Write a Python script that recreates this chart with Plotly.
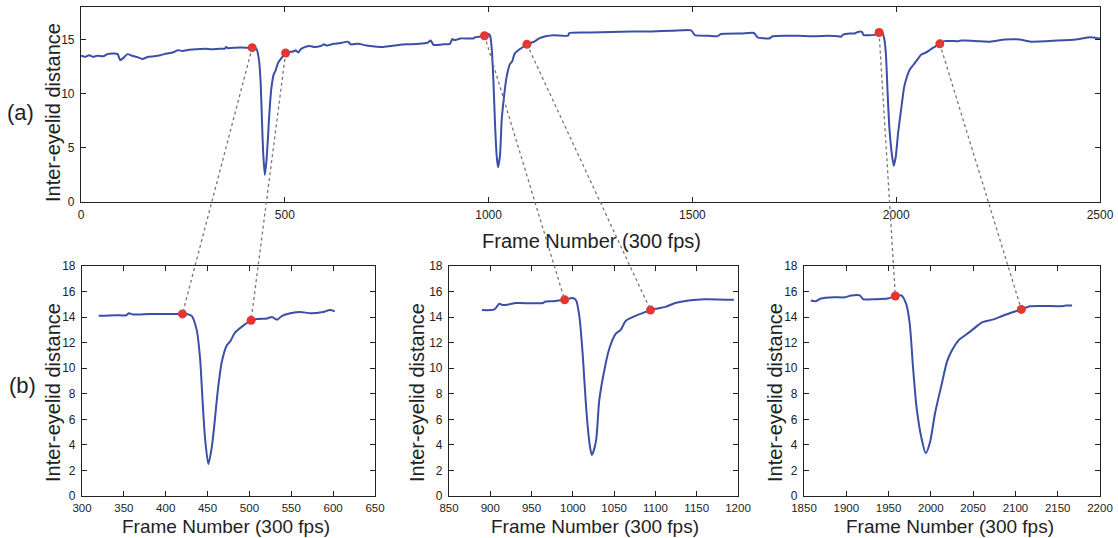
import plotly.graph_objects as go

# inter-eyelid distance trace (frame number, distance)
frames = [0, 10, 20, 30, 40, 55, 65, 80, 90, 96, 104, 114, 125, 140, 150, 165, 180, 195, 210, 225,
          237, 250, 265, 285, 305, 320, 340, 353, 356, 361, 381, 400, 413, 419, 425, 431, 437, 441, 444, 447,
          451, 455, 458, 461, 464, 467, 473, 477, 483, 493, 502, 509, 521, 527, 533, 539, 549, 561, 573, 588,
          596, 602, 620, 640, 655, 662, 680, 700, 720, 740, 760, 780, 800, 830, 850, 858, 865, 890, 905, 911,
          915, 923, 931, 964, 966, 976, 990, 1000, 1004, 1008, 1012, 1016, 1020, 1023, 1028, 1032, 1038, 1044, 1052, 1058,
          1064, 1076, 1088, 1094, 1100, 1112, 1124, 1140, 1160, 1195, 1198, 1250, 1300, 1350, 1400, 1450, 1497, 1506, 1540, 1561,
          1570, 1620, 1651, 1660, 1688, 1697, 1730, 1760, 1800, 1830, 1858, 1864, 1870, 1886, 1898, 1906, 1916, 1920, 1934, 1949,
          1958, 1965, 1971, 1975, 1979, 1983, 1989, 1994, 1999, 2005, 2013, 2019, 2025, 2033, 2041, 2049, 2061, 2073, 2081, 2093,
          2107, 2117, 2152, 2160, 2167, 2200, 2231, 2267, 2303, 2330, 2394, 2440, 2475, 2490, 2500]
distance = [13.5, 13.4, 13.55, 13.4, 13.5, 13.45, 13.65, 13.7, 13.65, 13.1, 13.3, 13.65, 13.5, 13.35, 13.2, 13.4, 13.45, 13.55, 13.7, 13.8,
            14.0, 13.95, 14.05, 14.1, 14.15, 14.1, 14.15, 14.15, 14.3, 14.2, 14.25, 14.25, 14.25, 14.25, 14.25, 14.1, 13.0, 10.8, 7.5, 4.5,
            2.5, 3.8, 5.5, 7.5, 9.2, 10.5, 11.8, 12.1, 12.8, 13.35, 13.75, 13.85, 13.9, 14.0, 13.8, 14.1, 14.3, 14.4, 14.3, 14.4,
            14.55, 14.45, 14.6, 14.7, 14.8, 14.55, 14.6, 14.45, 14.35, 14.3, 14.4, 14.5, 14.55, 14.6, 14.7, 14.9, 14.5, 14.55, 14.6, 15.05,
            14.95, 15.0, 15.1, 15.1, 15.2, 15.25, 15.35, 15.5, 15.3, 14.0, 11.0, 7.0, 4.2, 3.2, 4.3, 7.5, 9.8, 11.5, 12.7, 13.0,
            13.7, 14.1, 14.4, 14.55, 14.65, 14.8, 15.1, 15.3, 15.4, 15.35, 15.6, 15.65, 15.7, 15.75, 15.75, 15.8, 15.85, 15.4, 15.35, 15.3,
            15.5, 15.55, 15.6, 15.2, 15.1, 15.3, 15.35, 15.35, 15.3, 15.35, 15.3, 15.25, 15.45, 15.55, 15.55, 15.7, 15.7, 15.4, 15.4, 15.45,
            15.65, 15.7, 15.0, 13.5, 10.0, 7.0, 4.5, 3.35, 4.2, 6.5, 8.8, 10.5, 11.4, 12.2, 12.6, 13.0, 13.6, 13.8, 14.0, 14.3,
            14.6, 14.85, 14.85, 14.9, 14.9, 14.85, 14.8, 15.0, 15.0, 14.8, 14.9, 15.0, 15.2, 15.15, 15.1]

# blink start / end markers
mark_frames = [420, 502, 990, 1094, 1958, 2107]
mark_values = [14.25, 13.75, 15.35, 14.55, 15.65, 14.6]

# frame windows of the three zoomed panels
zoom_windows = [(320, 602), (890, 1195), (1858, 2167)]
zoom_ranges = [(300, 650), (850, 1200), (1850, 2200)]

W, H = 1118, 538
BLUE = '#3a4fa6'
RED = '#e8332e'
FONT = 'Arial, Liberation Sans, sans-serif'


def px(x):
    return x / W


def py(y):
    return 1 - y / H


top_dom_x = [px(81), px(1100)]
top_dom_y = [py(202), py(7)]
bot_dom_y = [py(496), py(266)]
bot_dom_x = [[px(82), px(375)], [px(449), px(738)], [px(804), px(1100)]]

axis_style = dict(showline=True, linecolor='#222', linewidth=1.1, mirror='ticks', automargin=False,
                  ticks='inside', ticklen=5, tickcolor='#222', showgrid=False, zeroline=False,
                  tickfont=dict(family=FONT, size=12, color='#222'))

fig = go.Figure()

# top panel
fig.add_trace(go.Scatter(x=frames, y=distance, mode='lines',
                         line=dict(color=BLUE, width=2, shape='spline', smoothing=0.5),
                         xaxis='x', yaxis='y', showlegend=False))
fig.add_trace(go.Scatter(x=mark_frames, y=mark_values, mode='markers',
                         marker=dict(color=RED, size=9), xaxis='x', yaxis='y', showlegend=False))

# zoomed panels
for i, (lo, hi) in enumerate(zoom_windows):
    ax = str(i + 2)
    fx = [f for f in frames if lo <= f <= hi]
    fy = [v for f, v in zip(frames, distance) if lo <= f <= hi]
    fig.add_trace(go.Scatter(x=fx, y=fy, mode='lines', line=dict(color=BLUE, width=2, shape='spline', smoothing=0.7),
                             xaxis='x' + ax, yaxis='y' + ax, showlegend=False))
    mf = mark_frames[2 * i:2 * i + 2]
    mv = mark_values[2 * i:2 * i + 2]
    fig.add_trace(go.Scatter(x=mf, y=mv, mode='markers', marker=dict(color=RED, size=9),
                             xaxis='x' + ax, yaxis='y' + ax, showlegend=False))

layout = dict(width=W, height=H, margin=dict(l=0, r=0, t=0, b=0, autoexpand=False),
              paper_bgcolor='white', plot_bgcolor='white', showlegend=False)
layout['xaxis'] = dict(axis_style, domain=top_dom_x, range=[0, 2500], tickvals=[0, 500, 1000, 1500, 2000, 2500],
                       anchor='y', ticklabelstandoff=2)
layout['yaxis'] = dict(axis_style, domain=top_dom_y, range=[0, 18], tickvals=[0, 5, 10, 15], anchor='x',
                       ticklabelstandoff=3)
for i, (r0, r1) in enumerate(zoom_ranges):
    ax = str(i + 2)
    layout['xaxis' + ax] = dict(axis_style, domain=bot_dom_x[i], range=[r0, r1], dtick=50, anchor='y' + ax,
                                ticklabelstandoff=1, tickfont=dict(family=FONT, size=11.5, color='#222'))
    layout['yaxis' + ax] = dict(axis_style, domain=bot_dom_y, range=[0, 18], dtick=2, anchor='x' + ax,
                                ticklabelstandoff=3)
fig.update_layout(**layout)

# axis titles and panel labels
title_font = dict(family=FONT, size=20, color='#222')
ann = [
    dict(text='Frame Number (300 fps)', x=px(591), y=py(241)),
    dict(text='Inter-eyelid distance', x=px(53), y=py(113), textangle=-90),
    dict(text='(a)', x=px(20), y=py(113), font=dict(family=FONT, size=22, color='#222')),
    dict(text='(b)', x=px(22), y=py(385), font=dict(family=FONT, size=22, color='#222')),
]
for cx, ytx in [(226, 53), (595, 417), (950, 775)]:
    ann.append(dict(text='Frame Number (300 fps)', x=px(cx), y=py(526), font=dict(family=FONT, size=19, color='#222')))
    ann.append(dict(text='Inter-eyelid distance', x=px(ytx), y=py(393), textangle=-90))
for a in ann:
    a.setdefault('font', title_font)
    fig.add_annotation(xref='paper', yref='paper', showarrow=False, xanchor='center', yanchor='middle',
                       borderpad=0, **a)


# dotted connectors from the top markers to the zoomed markers
def to_paper(v, rng, dom):
    return dom[0] + (v - rng[0]) / (rng[1] - rng[0]) * (dom[1] - dom[0])


for k, (f, v) in enumerate(zip(mark_frames, mark_values)):
    i = k // 2
    x0 = to_paper(f, (0, 2500), top_dom_x)
    y0 = to_paper(v, (0, 18), top_dom_y)
    x1 = to_paper(f, zoom_ranges[i], bot_dom_x[i])
    y1 = to_paper(v, (0, 18), bot_dom_y)
    fig.add_shape(type='line', xref='paper', yref='paper', x0=x0, y0=y0, x1=x1, y1=y1,
                  line=dict(color='#777', width=1.3, dash='dot'), layer='above')

# drop the default page margin so the figure sits at the window's top-left corner
fig.write_html("out.html", config={'displayModeBar': False},
               post_script="document.body.style.margin='0';document.body.style.overflow='hidden';")
